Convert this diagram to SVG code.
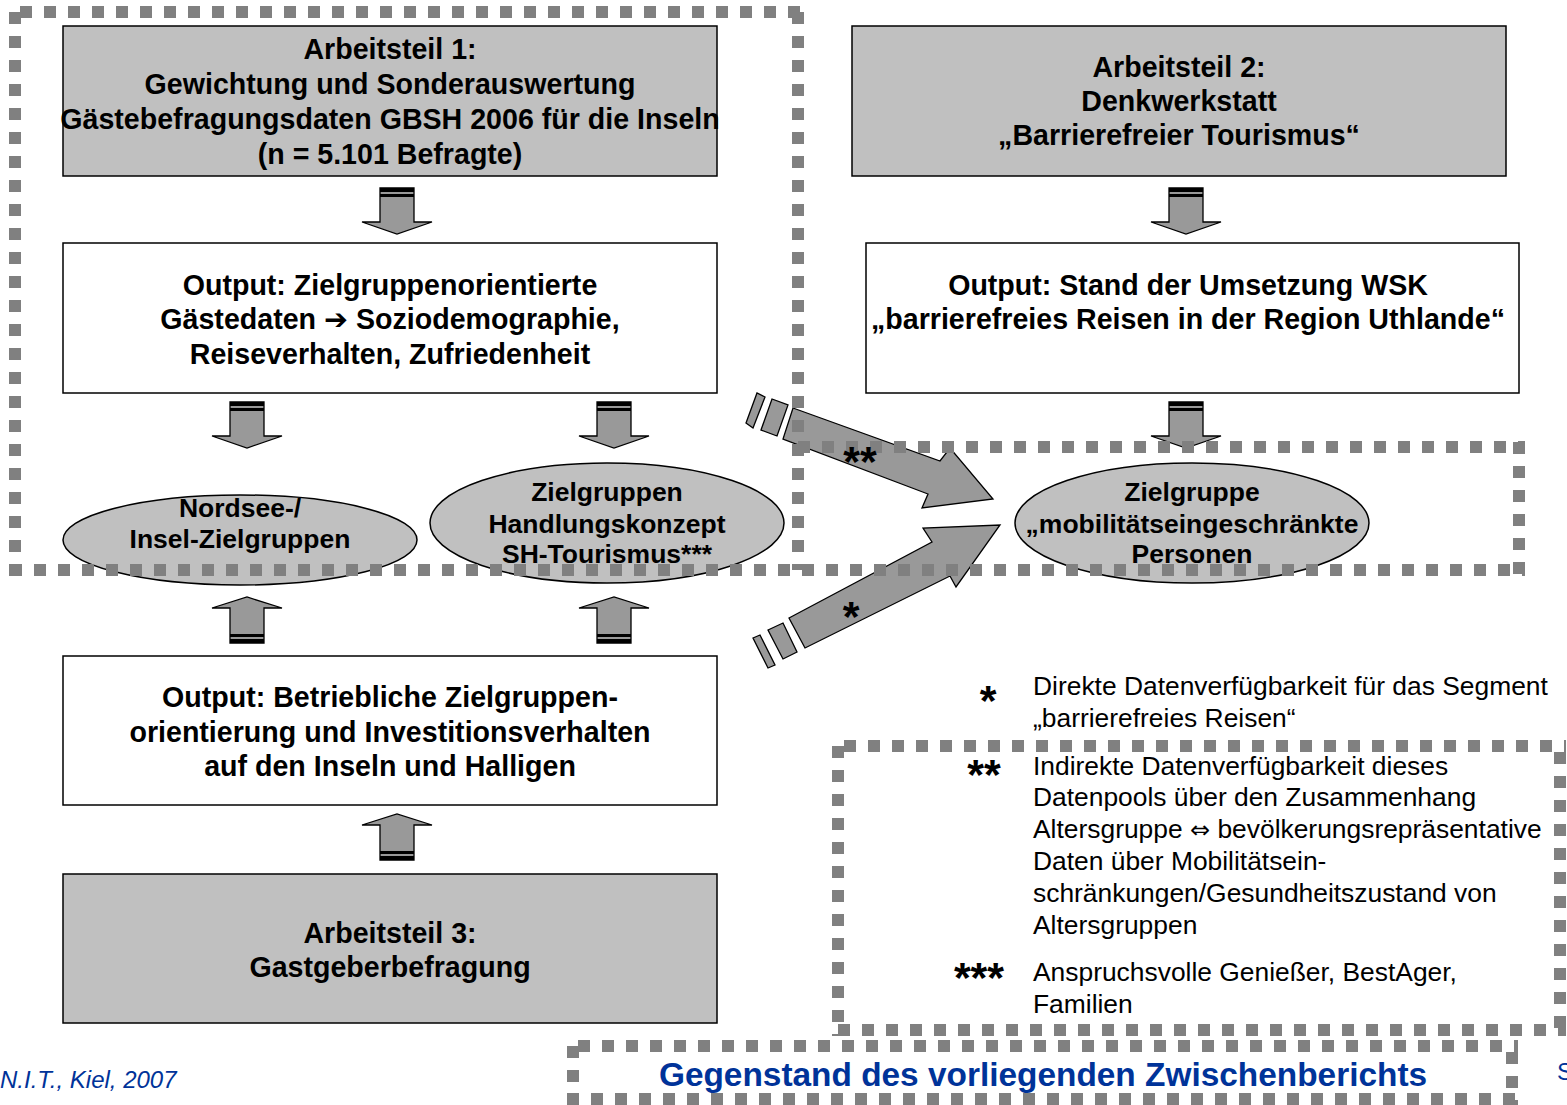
<svg xmlns="http://www.w3.org/2000/svg" width="1567" height="1105" viewBox="0 0 1567 1105">
<style>
.box{fill:#c0c0c0;stroke:#000;stroke-width:1.5}
.wbox{fill:#fff;stroke:#000;stroke-width:1.5}
.ell{fill:#c0c0c0;stroke:#000;stroke-width:1.5}
.arr{fill:#999;stroke:#000;stroke-width:1.3}
.dash{fill:none;stroke:#808080;stroke-width:12;stroke-dasharray:12 12}
.t{font-family:"Liberation Sans",Arial,sans-serif;font-weight:bold;font-size:28.6px;fill:#000;text-anchor:middle}
.e{font-family:"Liberation Sans",Arial,sans-serif;font-weight:bold;font-size:26.5px;fill:#000;text-anchor:middle}
.l{font-family:"Liberation Sans",Arial,sans-serif;font-size:26.4px;fill:#000}
.s{font-family:"Liberation Sans",Arial,sans-serif;font-weight:bold;font-size:43px;fill:#000;text-anchor:middle}
</style>
<defs>
<g id="down">
<path d="M-17,0 H17 V34 H35 L0,46 L-35,34 H-17 Z" class="arr"/>
<rect x="-17" y="0" width="34" height="4" fill="#000"/>
<rect x="-17" y="6" width="34" height="3" fill="#000"/>
</g>
<g id="up">
<path d="M-17,0 H17 V-35 H35 L0,-46 L-35,-35 H-17 Z" class="arr"/>
<rect x="-17" y="-4" width="34" height="4" fill="#000"/>
<rect x="-17" y="-9" width="34" height="3" fill="#000"/>
</g>
</defs>

<g id="n-arbeitsteil1">
<rect class="box" x="63" y="26" width="654" height="150"/>
<text class="t" x="390" y="59">Arbeitsteil 1:</text>
<text class="t" x="390" y="94">Gewichtung und Sonderauswertung</text>
<text class="t" x="390" y="129">Gästebefragungsdaten GBSH 2006 für die Inseln</text>
<text class="t" x="390" y="164">(n = 5.101 Befragte)</text>
</g>
<g id="n-arbeitsteil2">
<rect class="box" x="852" y="26" width="654" height="150"/>
<text class="t" x="1179" y="77">Arbeitsteil 2:</text>
<text class="t" x="1179" y="111">Denkwerkstatt</text>
<text class="t" x="1179" y="145">„Barrierefreier Tourismus“</text>
</g>
<g id="n-output1">
<rect class="wbox" x="63" y="243" width="654" height="150"/>
<text class="t" x="390" y="295">Output: Zielgruppenorientierte</text>
<text class="t" x="390" y="329">Gästedaten <tspan font-family="DejaVu Sans">➔</tspan> Soziodemographie,</text>
<text class="t" x="390" y="364">Reiseverhalten, Zufriedenheit</text>
</g>
<g id="n-output2">
<rect class="wbox" x="866" y="243" width="653" height="150"/>
<text class="t" x="1188" y="295">Output: Stand der Umsetzung WSK</text>
<text class="t" x="1188" y="329">„barrierefreies Reisen in der Region Uthlande“</text>
</g>
<g id="n-nordsee">
<ellipse class="ell" cx="240" cy="540" rx="177" ry="45"/>
</g>
<g id="n-zielgruppen">
<ellipse class="ell" cx="607" cy="523" rx="177" ry="60"/>
</g>
<g id="n-mobil">
<ellipse class="ell" cx="1192" cy="523" rx="177" ry="60"/>
</g>
<g id="n-output3">
<rect class="wbox" x="63" y="656" width="654" height="149"/>
<text class="t" x="390" y="707">Output: Betriebliche Zielgruppen-</text>
<text class="t" x="390" y="742">orientierung und Investitionsverhalten</text>
<text class="t" x="390" y="776">auf den Inseln und Halligen</text>
</g>
<g id="n-arbeitsteil3">
<rect class="box" x="63" y="874" width="654" height="149"/>
<text class="t" x="390" y="943">Arbeitsteil 3:</text>
<text class="t" x="390" y="977">Gastgeberbefragung</text>
</g>

<g id="connectors">
<use href="#down" x="397" y="188"/>
<use href="#down" x="1186" y="188"/>
<use href="#down" x="247" y="402"/>
<use href="#down" x="614" y="402"/>
<use href="#down" x="1186" y="402"/>
<use href="#up" x="247" y="643"/>
<use href="#up" x="614" y="643"/>
<use href="#up" x="397" y="860"/>
<polygon class="arr" points="746,423 757,393 765,397 753,428"/>
<polygon class="arr" points="761,430 772,399 788,405 777,436"/>
<polygon class="arr" points="793,408 940,461 950,448 993,499 922,508 928,494 783,439"/>
<polygon class="arr" points="753,638 760,635 775,665 768,668"/>
<polygon class="arr" points="768,630 783,623 797,652 783,659"/>
<polygon class="arr" points="789,618 932,542 923,528 1000,525 956,587 950,576 805,648"/>
</g>

<g id="dashed-frames">
<path class="dash" d="M20,12 H804"/>
<path class="dash" d="M15,12 V576"/>
<path class="dash" d="M798,12 V570"/>
<path class="dash" d="M10,570 H1525"/>
<path class="dash" d="M798,447 H1525"/>
<path class="dash" d="M1519,442 V576"/>
<path class="dash" d="M844,746 H1566"/>
<path class="dash" d="M838,746 V1036"/>
<path class="dash" d="M838,1030 H1566"/>
<path class="dash" d="M1560,752 V1036"/>
<path class="dash" d="M578,1046 H1518"/>
<path class="dash" d="M573,1046 V1106"/>
<path class="dash" d="M567,1099 H1518"/>
<path class="dash" d="M1512,1052 V1106"/>
</g>

<g id="labels">
<text class="e" x="240" y="517">Nordsee-/</text>
<text class="e" x="240" y="548">Insel-Zielgruppen</text>
<text class="e" x="607" y="501">Zielgruppen</text>
<text class="e" x="607" y="533">Handlungskonzept</text>
<text class="e" x="607" y="563">SH-Tourismus***</text>
<text class="e" x="1192" y="501">Zielgruppe</text>
<text class="e" x="1192" y="533">„mobilitätseingeschränkte</text>
<text class="e" x="1192" y="563">Personen</text>
<text class="s" x="860" y="476">**</text>
<text class="s" x="851" y="631">*</text>
</g>

<g id="legend">
<text class="s" x="988" y="715">*</text>
<text class="l" x="1033" y="695">Direkte Datenverfügbarkeit für das Segment</text>
<text class="l" x="1033" y="727">„barrierefreies Reisen“</text>
<text class="s" x="984" y="789">**</text>
<text class="l" x="1033" y="775">Indirekte Datenverfügbarkeit dieses</text>
<text class="l" x="1033" y="806">Datenpools über den Zusammenhang</text>
<text class="l" x="1033" y="838">Altersgruppe <tspan font-family="DejaVu Sans" font-size="24">⇔</tspan> bevölkerungsrepräsentative</text>
<text class="l" x="1033" y="870">Daten über Mobilitätsein-</text>
<text class="l" x="1033" y="902">schränkungen/Gesundheitszustand von</text>
<text class="l" x="1033" y="934">Altersgruppen</text>
<text class="s" x="979" y="992">***</text>
<text class="l" x="1033" y="981">Anspruchsvolle Genießer, BestAger,</text>
<text class="l" x="1033" y="1013">Familien</text>
</g>

<g id="footer">
<text x="0" y="1088" font-family="'Liberation Sans',Arial,sans-serif" font-style="italic" font-size="24" fill="#003399">N.I.T., Kiel, 2007</text>
<text x="1043" y="1086" text-anchor="middle" font-family="'Liberation Sans',Arial,sans-serif" font-weight="bold" font-size="33.4" fill="#003399">Gegenstand des vorliegenden Zwischenberichts</text>
<text x="1557" y="1080" font-family="'Liberation Sans',Arial,sans-serif" font-size="24" fill="#003399">S</text>
</g>
</svg>
